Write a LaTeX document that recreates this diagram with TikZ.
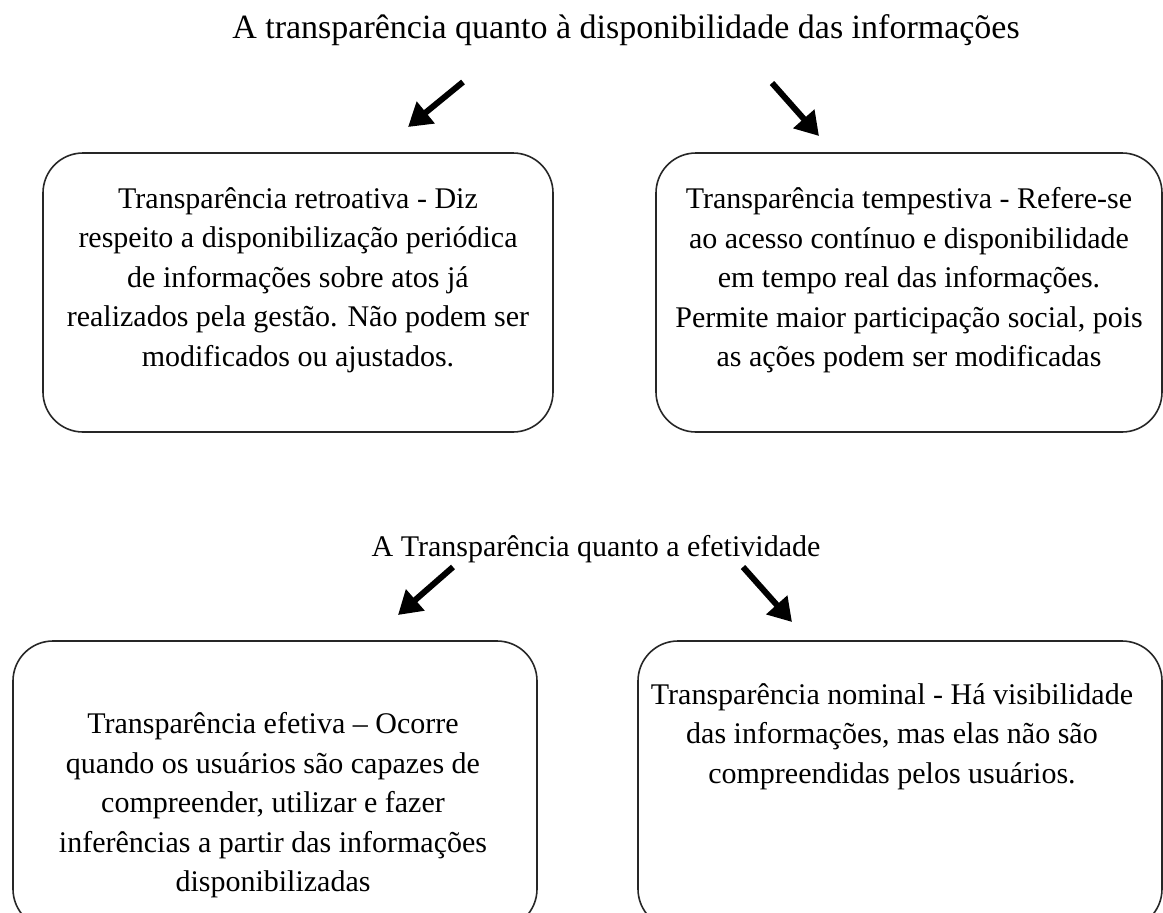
\documentclass[tikz,border=0pt]{standalone}
\usepackage{fontspec}
\setmainfont{Liberation Serif}
\usetikzlibrary{arrows.meta,positioning}
\begin{document}
\begin{tikzpicture}[x=1pt, y=-1pt,
        caixa/.style={draw=black!85, line width=1.6pt, rounded corners=40pt, inner sep=0pt},
        texto/.style={align=center, inner sep=0pt, font=\fontsize{30}{39.5}\selectfont},
        titulo/.style={anchor=base, inner sep=0pt, font=\fontsize{30}{39}\selectfont},
        seta/.style={line width=6pt, -{Triangle[length=23pt, width=27pt]}}]
        \useasboundingbox (0,0) rectangle (1163,913);
        % titulos
        \node[titulo, font=\fontsize{34}{40}\selectfont] (disp) at (626,38) {A transparência quanto à disponibilidade das informações};
        \node[titulo] (efet) at (596,556) {A Transparência quanto a efetividade};
        % caixas de cima
        \node[caixa, minimum width=510pt, minimum height=279pt] (retro) at (298,292.5) {};
        \node[caixa, minimum width=506pt, minimum height=279pt] (tempes) at (909,292.5) {};
        \node[texto, below=35pt of retro.north] (retrotxt) {Transparência retroativa - Diz\\ respeito a disponibilização periódica\\ de informações sobre atos já\\ realizados pela gestão. Não podem ser\\ modificados ou ajustados.};
        \node[texto, below=35pt of tempes.north] (tempestxt) {Transparência tempestiva - Refere-se\\ ao acesso contínuo e disponibilidade\\ em tempo real das informações.\\ Permite maior participação social, pois\\ as ações podem ser modificadas};
        % caixas de baixo
        \node[caixa, minimum width=524pt, minimum height=288pt] (efetiva) at (275,785) {};
        \node[caixa, minimum width=524pt, minimum height=288pt] (nominal) at (900,785) {};
        \node[texto, below=72pt of efetiva.north, xshift=-2pt] (efetivatxt) {Transparência efetiva – Ocorre\\ quando os usuários são capazes de\\ compreender, utilizar e fazer\\ inferências a partir das informações\\ disponibilizadas};
        \node[texto, below=43pt of nominal.north, xshift=-8pt] (nominaltxt) {Transparência nominal - Há visibilidade\\ das informações, mas elas não são\\ compreendidas pelos usuários.};
        % setas
        \coordinate (d1) at (463,82);  \coordinate (d2) at (408,127);
        \coordinate (d3) at (772,83);  \coordinate (d4) at (819,136);
        \coordinate (e1) at (453,567); \coordinate (e2) at (398,615);
        \coordinate (e3) at (743,567); \coordinate (e4) at (792,622);
        \draw[seta] (d1) -- (d2);
        \draw[seta] (d3) -- (d4);
        \draw[seta] (e1) -- (e2);
        \draw[seta] (e3) -- (e4);
    \end{tikzpicture}
\end{document}
